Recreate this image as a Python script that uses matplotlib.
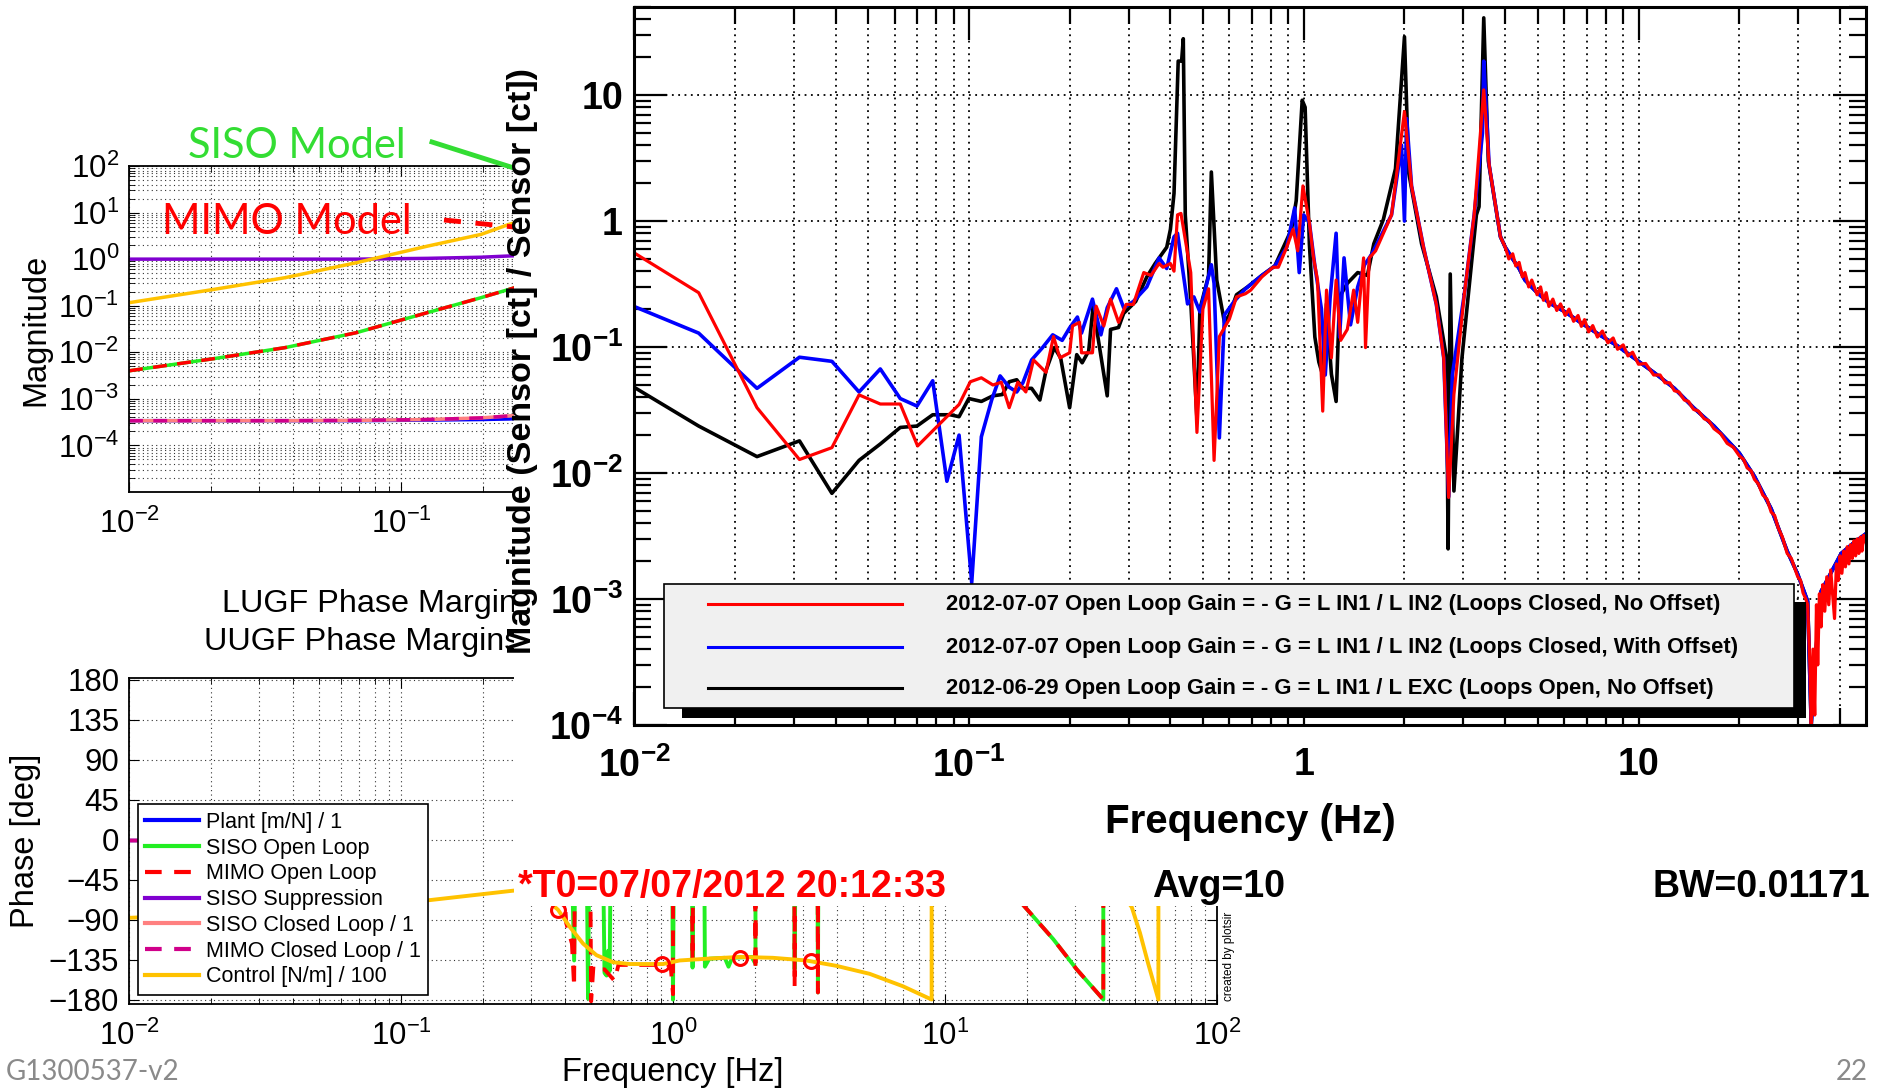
import matplotlib
matplotlib.use("Agg")
import matplotlib.pyplot as plt
import numpy as np
from matplotlib.lines import Line2D
from matplotlib.patches import Rectangle
from matplotlib.ticker import LogLocator, NullFormatter

plt.rcParams["font.family"] = ["Liberation Sans", "DejaVu Sans"]
plt.rcParams["mathtext.fontset"] = "custom"
plt.rcParams["mathtext.rm"] = "Liberation Sans"
plt.rcParams["mathtext.it"] = "Liberation Sans:italic"
plt.rcParams["mathtext.bf"] = "Liberation Sans:bold"

W, H = 1881, 1089

# ---------------- data: small model magnitude plot (upper left) ----------------
model_freq = [0.01, 0.0205, 0.0375, 0.0686, 0.125, 0.197, 0.25, 0.3]
control_mag = [0.116, 0.224, 0.40, 0.84, 1.9, 3.4, 5.6, 7.5]
open_loop_mag = [0.0040, 0.0073, 0.0126, 0.0264, 0.071, 0.149, 0.225, 0.31]
suppression_mag = [1.0, 1.0, 1.0, 1.0, 1.04, 1.1, 1.17, 1.22]
plant_mag = [3.4e-4, 3.4e-4, 3.4e-4, 3.4e-4, 3.5e-4, 3.6e-4, 3.7e-4, 3.9e-4]
closed_loop_mag = [3.4e-4, 3.4e-4, 3.4e-4, 3.45e-4, 3.6e-4, 3.9e-4, 4.3e-4, 4.7e-4]

# ---------------- data: model phase plot (bottom) ----------------
flat_phase_freq = [0.01, 0.12]
flat_phase = [0, 0]
control_phase = [(0.01, -88), (0.02, -84), (0.05, -76), (0.128, -68), (0.257, -57.5),
                 (0.29, -56), (0.33, -63), (0.378, -79), (0.417, -98), (0.467, -117),
                 (0.523, -130), (0.602, -138), (0.693, -140), (0.919, -140), (1.058, -136),
                 (1.33, -134), (1.76, -132), (2.33, -133), (3.09, -136), (3.98, -142),
                 (5.28, -151), (7.0, -165), (8.93, -180), (8.93, 180), (20, 50), (40, -40),
                 (48.6, -76), (52.1, -105), (55.9, -140), (60.9, -180), (60.9, 180),
                 (80, 120), (100, 90)]
siso_ol_phase = [(0.30, 40), (0.42, 40), (0.433, -136), (0.44, 40), (0.48, 40), (0.487, -179),
                 (0.494, 40), (0.55, 40), (0.56, -150), (0.57, -153), (0.578, -125),
                 (0.585, -148), (0.592, 40), (0.99, 40), (1.0, -180), (1.01, 40), (1.17, 40),
                 (1.18, -144), (1.19, 40), (1.30, 40), (1.31, -143), (1.36, -134),
                 (1.55, -133), (1.6, -143), (1.65, -133), (1.95, -132), (2.01, -140),
                 (2.01, 40), (2.78, 40), (2.80, -146), (2.83, 40), (3.39, 40), (3.41, -172),
                 (3.43, 40), (12, 40), (16, -44), (19.7, -76), (25, -112), (30.5, -146),
                 (38.2, -180), (38.2, 180), (60, 110), (100, 60)]
mimo_ol_phase = [(0.30, 40), (0.38, 40), (0.405, -94), (0.425, -117), (0.433, -166),
                 (0.437, 40), (0.495, 40), (0.50, -182), (0.51, -142), (0.525, -146),
                 (0.56, -146), (0.61, -159), (0.63, -141), (0.98, -141), (1.0, -174),
                 (1.0, 40), (1.17, 40), (1.18, -136), (1.19, 40), (2.0, 40), (2.01, -147),
                 (2.02, 40), (2.79, 40), (2.80, -166), (2.81, 40), (3.40, 40), (3.41, -172),
                 (3.42, 40), (12, 40), (16, -44), (19.7, -76), (25, -112), (30.5, -146),
                 (38.2, -180), (38.2, 180), (60, 110), (100, 60)]
ugf_freq = [0.378, 0.914, 1.76, 3.21]
ugf_phase = [-79, -140.5, -133, -137]

# ---------------- data: measured open loop gain (big plot) ----------------
# smooth high frequency roll-off shared by the closed/open loop measurements
tail = [(3.87, 0.75), (4.0, 0.62), (4.21, 0.50), (4.4, 0.42), (4.58, 0.34), (4.98, 0.27),
        (5.4, 0.225), (6.04, 0.19), (6.75, 0.155), (7.54, 0.128), (8.66, 0.102),
        (10.0, 0.077), (11.1, 0.063), (12.8, 0.047), (14.6, 0.033), (16.8, 0.0236),
        (20.0, 0.0144), (22.2, 0.0094), (24.9, 0.0052), (27.8, 0.0024), (29.9, 0.00157),
        (32.0, 0.00096), (32.8, 0.0001), (33.6, 0.0003), (35.1, 0.00115), (37.5, 0.0016),
        (40.3, 0.0023), (44.0, 0.0028), (47.8, 0.0033)]
# the same roll-off as it looks in the noisy 2012-07-07 trace
red_tail = [(3.87, 0.75), (4.0, 0.62), (4.1, 0.50), (4.21, 0.55), (4.3, 0.44), (4.4, 0.47),
            (4.5, 0.36), (4.58, 0.39), (4.7, 0.30), (4.8, 0.34), (4.98, 0.26), (5.1, 0.30),
            (5.2, 0.235), (5.3, 0.27), (5.4, 0.21), (5.55, 0.24), (5.7, 0.195), (5.85, 0.22),
            (6.04, 0.178), (6.2, 0.20), (6.4, 0.16), (6.6, 0.178), (6.75, 0.146), (6.9, 0.165),
            (7.1, 0.132), (7.3, 0.148), (7.54, 0.12), (7.8, 0.134), (8.1, 0.108), (8.4, 0.118),
            (8.66, 0.096), (9.0, 0.104), (9.3, 0.085), (9.6, 0.091), (10.0, 0.073),
            (10.5, 0.074), (11.1, 0.060), (11.6, 0.060), (12.0, 0.052), (12.4, 0.052),
            (12.8, 0.045), (13.2, 0.044), (13.7, 0.038), (14.1, 0.037), (14.6, 0.032),
            (15.1, 0.031), (15.7, 0.027), (16.2, 0.026), (16.8, 0.0225), (17.6, 0.0205),
            (18.4, 0.0172), (19.2, 0.0160), (20.0, 0.0137), (20.6, 0.0128), (21.1, 0.0110),
            (21.7, 0.0104), (22.2, 0.0089), (22.8, 0.0082), (23.5, 0.0067), (24.2, 0.0062),
            (24.9, 0.0049), (25.5, 0.0046), (26.1, 0.0037), (26.9, 0.0031), (27.8, 0.0023),
            (28.6, 0.0021), (29.9, 0.00150), (30.5, 0.0014), (31.0, 0.00112), (31.6, 0.0010),
            (32.0, 0.00090), (32.5, 0.0003), (32.8, 0.0001), (33.2, 0.0004), (33.6, 0.00012),
            (34.0, 0.0009), (34.3, 0.0003), (34.7, 0.0011), (35.1, 0.0006), (35.5, 0.0013),
            (36.0, 0.0008), (36.5, 0.0015), (37.0, 0.0009), (37.5, 0.0017), (38.0, 0.0011),
            (38.5, 0.0007), (39.0, 0.0019), (39.5, 0.0014), (40.0, 0.0022), (40.5, 0.0016),
            (41.0, 0.0024), (41.5, 0.0018), (42.0, 0.0026), (42.5, 0.0019), (43.0, 0.0027),
            (43.5, 0.0021), (44.0, 0.0029), (44.5, 0.0022), (45.0, 0.0030), (45.5, 0.0023),
            (46.0, 0.0031), (46.5, 0.0024), (47.0, 0.0032), (47.8, 0.0028)]

red_points = [(0.01, 0.56), (0.0156, 0.27), (0.0233, 0.033), (0.0312, 0.0128), (0.039, 0.0159),
              (0.047, 0.0417), (0.0544, 0.0353), (0.0624, 0.0353), (0.0703, 0.0164),
              (0.0935, 0.035), (0.101, 0.053), (0.109, 0.057), (0.118, 0.050), (0.125, 0.0525),
              (0.132, 0.033), (0.140, 0.0525), (0.148, 0.044), (0.156, 0.079), (0.170, 0.063),
              (0.179, 0.121), (0.187, 0.082), (0.200, 0.090), (0.204, 0.147), (0.214, 0.157),
              (0.217, 0.090), (0.234, 0.090), (0.240, 0.211), (0.253, 0.147), (0.265, 0.240),
              (0.280, 0.157), (0.295, 0.218), (0.310, 0.218), (0.333, 0.39), (0.350, 0.37),
              (0.370, 0.46), (0.380, 0.43), (0.400, 0.46), (0.410, 0.40), (0.420, 1.12),
              (0.430, 1.15), (0.460, 0.39), (0.480, 0.021), (0.500, 0.20), (0.520, 0.29),
              (0.540, 0.0126), (0.560, 0.121), (0.600, 0.167), (0.630, 0.25), (0.670, 0.265),
              (0.695, 0.283), (0.750, 0.36), (0.810, 0.43), (0.840, 0.43), (0.890, 0.62),
              (0.930, 0.86), (0.960, 0.58), (0.995, 1.9), (1.04, 0.97), (1.07, 0.51),
              (1.10, 0.34), (1.14, 0.031), (1.17, 0.283), (1.21, 0.082), (1.25, 0.34),
              (1.29, 0.113), (1.35, 0.138), (1.41, 0.283), (1.45, 0.157), (1.51, 0.51),
              (1.53, 0.099), (1.57, 0.51), (1.64, 0.58), (1.83, 1.12), (2.00, 7.4), (2.10, 1.89),
              (2.28, 0.62), (2.49, 0.218), (2.62, 0.082), (2.71, 0.0064), (2.81, 0.042),
              (3.02, 0.265), (3.23, 1.12), (3.45, 11.0), (3.58, 2.8)] + red_tail

blue_points = [(0.01, 0.21), (0.0156, 0.129), (0.0233, 0.047), (0.0312, 0.083), (0.039, 0.077),
               (0.047, 0.044), (0.0544, 0.067), (0.0624, 0.039), (0.070, 0.034), (0.078, 0.054),
               (0.086, 0.0086), (0.0935, 0.020), (0.102, 0.00135), (0.109, 0.0194),
               (0.117, 0.038), (0.124, 0.059), (0.132, 0.048), (0.139, 0.044), (0.145, 0.052),
               (0.154, 0.079), (0.166, 0.099), (0.178, 0.125), (0.190, 0.113), (0.200, 0.142),
               (0.211, 0.173), (0.217, 0.129), (0.234, 0.240), (0.248, 0.125), (0.259, 0.205),
               (0.276, 0.29), (0.290, 0.205), (0.31, 0.23), (0.34, 0.30), (0.37, 0.51),
               (0.39, 0.42), (0.41, 0.75), (0.42, 0.80), (0.45, 0.22), (0.47, 0.25), (0.49, 0.19),
               (0.53, 0.45), (0.54, 0.32), (0.56, 0.019), (0.58, 0.18), (0.62, 0.23),
               (0.67, 0.29), (0.75, 0.37), (0.82, 0.44), (0.89, 0.62), (0.94, 1.27), (0.97, 0.39),
               (1.0, 1.12), (1.04, 0.97), (1.08, 0.44), (1.13, 0.20), (1.16, 0.06), (1.20, 0.25),
               (1.25, 0.80), (1.28, 0.12), (1.32, 0.51), (1.38, 0.15), (1.45, 0.30),
               (1.52, 0.45), (1.60, 0.55), (1.83, 1.12), (1.96, 4.0), (2.0, 1.0), (2.03, 6.5),
               (2.10, 1.9), (2.28, 0.62), (2.49, 0.218), (2.62, 0.082), (2.71, 0.0065),
               (2.78, 0.06), (3.02, 0.265), (3.23, 1.12), (3.42, 5.0), (3.45, 18.6),
               (3.50, 9.0), (3.58, 2.8)] + tail

black_points = [(0.01, 0.048), (0.0156, 0.0236), (0.0233, 0.0135), (0.0312, 0.018),
                (0.039, 0.0069), (0.047, 0.0126), (0.0544, 0.017), (0.0624, 0.023),
                (0.070, 0.0236), (0.078, 0.029), (0.088, 0.029), (0.0935, 0.028), (0.100, 0.039),
                (0.109, 0.037), (0.118, 0.041), (0.126, 0.042), (0.132, 0.053), (0.139, 0.055),
                (0.145, 0.047), (0.154, 0.047), (0.163, 0.038), (0.170, 0.065), (0.180, 0.099),
                (0.188, 0.082), (0.200, 0.033), (0.210, 0.087), (0.218, 0.075), (0.228, 0.093),
                (0.235, 0.21), (0.259, 0.041), (0.265, 0.138), (0.28, 0.143), (0.29, 0.185),
                (0.315, 0.23), (0.34, 0.36), (0.36, 0.46), (0.39, 0.62), (0.40, 0.86),
                (0.41, 1.66), (0.422, 18.6), (0.432, 18.6), (0.437, 28.0), (0.443, 1.12),
                (0.46, 0.23), (0.48, 0.027), (0.49, 0.20), (0.52, 0.37), (0.53, 2.45),
                (0.55, 0.34), (0.58, 0.157), (0.60, 0.18), (0.63, 0.26), (0.68, 0.30),
                (0.75, 0.37), (0.82, 0.44), (0.92, 0.86), (0.95, 1.45), (0.99, 9.1), (1.01, 8.0),
                (1.04, 0.66), (1.08, 0.12), (1.11, 0.076), (1.14, 0.06), (1.17, 0.22),
                (1.21, 0.061), (1.25, 0.037), (1.28, 0.25), (1.35, 0.32), (1.45, 0.39),
                (1.55, 0.37), (1.62, 0.66), (1.73, 1.03), (1.88, 2.6), (2.0, 29.0), (2.06, 2.4),
                (2.25, 0.66), (2.49, 0.25), (2.67, 0.082), (2.70, 0.0025), (2.74, 0.38),
                (2.81, 0.0072), (2.97, 0.082), (3.28, 1.12), (3.34, 1.3), (3.45, 41.0),
                (3.56, 3.0)] + tail

legend_labels = ["2012-07-07 Open Loop Gain = - G = L IN1 / L IN2 (Loops Closed, No Offset)",
                 "2012-07-07 Open Loop Gain = - G = L IN1 / L IN2 (Loops Closed, With Offset)",
                 "2012-06-29 Open Loop Gain = - G = L IN1 / L EXC (Loops Open, No Offset)"]

C_BLUE, C_GREEN, C_RED = "#0000ff", "#22ee22", "#ff0000"
C_PURPLE, C_PINK, C_MAGENTA, C_GOLD = "#8000d0", "#ff8080", "#d0008a", "#ffc200"


def box(x0, y0, x1, y1):
    return [x0 / W, 1 - y1 / H, (x1 - x0) / W, (y1 - y0) / H]


def fx(x):
    return x / W


def fy(y):
    return 1 - y / H


fig = plt.figure(figsize=(W / 100, H / 100), dpi=100)
fig.patch.set_facecolor("white")

grid_kw = dict(color="#333333", linestyle=(0, (1, 3)), linewidth=0.8)
LW = 2.5

# ---------------- small magnitude plot ----------------
ax_m = fig.add_axes(box(129, 166, 1217, 492), zorder=1)
ax_m.set_xscale("log")
ax_m.set_yscale("log")
ax_m.plot(model_freq, plant_mag, color=C_BLUE, lw=LW)
ax_m.plot(model_freq, open_loop_mag, color=C_GREEN, lw=LW)
ax_m.plot(model_freq, open_loop_mag, color=C_RED, lw=LW, dashes=(4, 3))
ax_m.plot(model_freq, suppression_mag, color=C_PURPLE, lw=LW)
ax_m.plot(model_freq, closed_loop_mag, color=C_PINK, lw=LW)
ax_m.plot(model_freq, closed_loop_mag, color=C_MAGENTA, lw=LW, dashes=(4, 3))
ax_m.plot(model_freq, control_mag, color=C_GOLD, lw=LW)
ax_m.set_xlim(0.01, 100)
ax_m.set_ylim(1e-5, 1e2)
ax_m.set_yticks([1e-4, 1e-3, 1e-2, 1e-1, 1, 10, 100])
ax_m.set_yticklabels([r"$10^{-4}$", r"$10^{-3}$", r"$10^{-2}$", r"$10^{-1}$",
                      r"$10^{0}$", r"$10^{1}$", r"$10^{2}$"])
ax_m.set_xticks([0.01, 0.1, 1, 10, 100])
ax_m.set_xticklabels([r"$10^{-2}$", r"$10^{-1}$", r"$10^{0}$", r"$10^{1}$", r"$10^{2}$"])
ax_m.yaxis.set_minor_locator(LogLocator(base=10, subs=np.arange(2, 10), numticks=20))
ax_m.yaxis.set_minor_formatter(NullFormatter())
ax_m.xaxis.set_minor_formatter(NullFormatter())
ax_m.grid(which="both", **grid_kw)
ax_m.tick_params(which="both", direction="in", top=True, right=True, labelsize=22.5)
ax_m.tick_params(which="major", length=7, pad=7)
ax_m.tick_params(axis="x", which="major", pad=12)
ax_m.tick_params(which="minor", length=4)
for s in ax_m.spines.values():
    s.set_linewidth(1.3)

# ---------------- phase plot ----------------
ax_p = fig.add_axes(box(129, 678, 1217, 1004), zorder=1)
ax_p.set_xscale("log")
lines = []
lines += ax_p.plot(flat_phase_freq, flat_phase, color=C_BLUE, lw=LW, label="Plant [m/N] / 1")
f, p = zip(*siso_ol_phase)
lines += ax_p.plot(f, p, color=C_GREEN, lw=2.8, label="SISO Open Loop")
f, p = zip(*mimo_ol_phase)
lines += ax_p.plot(f, p, color=C_RED, lw=2.8, dashes=(4, 3), label="MIMO Open Loop")
lines += ax_p.plot(flat_phase_freq, flat_phase, color=C_PURPLE, lw=LW, label="SISO Suppression")
lines += ax_p.plot(flat_phase_freq, flat_phase, color=C_PINK, lw=LW, label="SISO Closed Loop / 1")
lines += ax_p.plot(flat_phase_freq, flat_phase, color=C_MAGENTA, lw=LW, dashes=(4, 3),
                   label="MIMO Closed Loop / 1")
f, p = zip(*control_phase)
lines += ax_p.plot(f, p, color=C_GOLD, lw=2.8, label="Control [N/m] / 100")
ax_p.plot(ugf_freq, ugf_phase, "o", mfc="none", mec=C_RED, mew=2.2, ms=10)
ax_p.set_xlim(0.01, 100)
ax_p.set_ylim(-185, 182)
ax_p.set_yticks([180, 135, 90, 45, 0, -45, -90, -135, -180])
ax_p.set_yticklabels(["180", "135", "90", "45", "0", "\u221245", "\u221290", "\u2212135", "\u2212180"])
ax_p.set_xticks([0.01, 0.1, 1, 10, 100])
ax_p.set_xticklabels([r"$10^{-2}$", r"$10^{-1}$", r"$10^{0}$", r"$10^{1}$", r"$10^{2}$"])
ax_p.xaxis.set_minor_formatter(NullFormatter())
ax_p.grid(which="both", axis="x", **grid_kw)
ax_p.grid(which="major", axis="y", **grid_kw)
ax_p.tick_params(which="both", direction="in", top=True, right=True, labelsize=22.5)
ax_p.tick_params(which="major", length=7, pad=7)
ax_p.tick_params(axis="x", which="major", pad=12)
ax_p.tick_params(which="minor", length=4)
for s in ax_p.spines.values():
    s.set_linewidth(1.3)
leg = ax_p.legend(handles=lines, loc="lower left", bbox_to_anchor=(0.008, 0.028),
                  borderaxespad=0, fontsize=15.5, frameon=True, fancybox=False,
                  framealpha=1, edgecolor="black", handlelength=2.5, handletextpad=0.3,
                  labelspacing=0.22, borderpad=0.35)
leg.get_frame().set_linewidth(1.2)
for ln in leg.get_lines():
    ln.set_linewidth(3)

# labels of the small plots
fig.text(fx(36), fy(330), "Magnitude", rotation=90, fontsize=23.5, ha="center", va="center", zorder=1.5)
fig.text(fx(26), fy(841), "Phase [deg]", rotation=90, fontsize=23.5, ha="center", va="center", zorder=1.5)
fig.text(fx(673), fy(1072), "Frequency [Hz]", fontsize=23.5, ha="center", va="center", zorder=1.5)
fig.text(fx(222), fy(604), "LUGF Phase Margins", fontsize=23.3, ha="left", va="center", zorder=1.5)
fig.text(fx(204), fy(642), "UUGF Phase Margins", fontsize=23.3, ha="left", va="center", zorder=1.5)
fig.text(fx(188), fy(146), "SISO Model", fontsize=30, color="#33dd33", family="Lato",
         ha="left", va="center", zorder=1.5)
fig.text(fx(162), fy(222), "MIMO Model", fontsize=30, color=C_RED, family="Lato",
         ha="left", va="center", zorder=1.5)
fig.add_artist(Line2D([fx(432), fx(514)], [fy(142), fy(168)], color="#33dd33", lw=3.5, zorder=1.5))
fig.add_artist(Line2D([fx(444), fx(514)], [fy(220), fy(227)], color=C_RED, lw=3.5,
                      dashes=(3.5, 3), zorder=1.5))

# white area of the pasted measurement plot
fig.add_artist(Rectangle((fx(514), fy(906)), 1 - fx(514), fy(0) - fy(906),
                         transform=fig.transFigure, facecolor="white", edgecolor="none", zorder=2))

# ---------------- big measurement plot ----------------
ax = fig.add_axes(box(634, 7, 1866, 725), zorder=3)
ax.set_xscale("log")
ax.set_yscale("log")
for pts, col, lw in [(black_points, "black", 2.6), (blue_points, C_BLUE, 2.6),
                     (red_points, C_RED, 2.3)]:
    f, m = zip(*pts)
    ax.plot(f, m, color=col, lw=lw)
ax.set_xlim(0.01, 47.8)
ax.set_ylim(1e-4, 50)
ax.set_xticks([0.01, 0.1, 1, 10])
ax.set_xticklabels([r"$\mathbf{10^{-2}}$", r"$\mathbf{10^{-1}}$", "1", "10"],
                   fontsize=27, fontweight="bold")
ax.set_yticks([1e-4, 1e-3, 1e-2, 1e-1, 1, 10])
ax.set_yticklabels([r"$\mathbf{10^{-4}}$", r"$\mathbf{10^{-3}}$", r"$\mathbf{10^{-2}}$",
                    r"$\mathbf{10^{-1}}$", "1", "10"], fontsize=27, fontweight="bold")
ax.xaxis.set_minor_locator(LogLocator(base=10, subs=np.arange(2, 10), numticks=20))
ax.yaxis.set_minor_locator(LogLocator(base=10, subs=np.arange(2, 10), numticks=20))
ax.xaxis.set_minor_formatter(NullFormatter())
ax.yaxis.set_minor_formatter(NullFormatter())
big_grid = dict(color="black", linestyle=(0, (1, 2.5)), linewidth=1.3)
ax.grid(which="both", axis="x", **big_grid)
ax.grid(which="major", axis="y", **big_grid)
ax.tick_params(which="both", direction="in", top=True, right=True, width=1.6)
ax.tick_params(which="major", length=24)
ax.tick_params(which="minor", length=12)
ax.tick_params(axis="x", which="major", pad=16)
ax.tick_params(axis="y", which="major", pad=8)
for s in ax.spines.values():
    s.set_linewidth(2.2)

# legend with ROOT style shadow
ax.add_patch(Rectangle((0.039, 0.0098), 0.9123, 0.1615, transform=ax.transAxes,
                       facecolor="black", edgecolor="none", zorder=5))
ax.add_patch(Rectangle((0.0244, 0.0237), 0.9172, 0.1727, transform=ax.transAxes,
                       facecolor="#f0f0f0", edgecolor="black", lw=1.2, zorder=6))
for lab, col, yy in zip(legend_labels, [C_RED, C_BLUE, "black"], [0.1685, 0.1086, 0.0515]):
    ax.add_line(Line2D([0.0601, 0.2175], [yy, yy], transform=ax.transAxes, color=col,
                       lw=2.2, zorder=7))
    ax.text(0.2532, yy, lab, transform=ax.transAxes, fontsize=15.8, fontweight="bold",
            ha="left", va="center", zorder=7)

fig.text(fx(522), fy(361), "Magnitude (Sensor [ct] / Sensor [ct])", rotation=90, fontsize=24.5,
         fontweight="bold", ha="center", va="center", zorder=4)
fig.text(fx(1250), fy(822), "Frequency (Hz)", fontsize=29, fontweight="bold",
         ha="center", va="center", zorder=4)
fig.text(fx(518), fy(887), "*T0=07/07/2012 20:12:33", fontsize=27, fontweight="bold",
         color=C_RED, ha="left", va="center", zorder=4)
fig.text(fx(1152), fy(887), "Avg=10", fontsize=27, fontweight="bold", ha="left", va="center", zorder=4)
fig.text(fx(1870), fy(887), "BW=0.01171", fontsize=27, fontweight="bold", ha="right",
         va="center", zorder=4)
fig.text(fx(1229), fy(956), "created by plotsir", rotation=90, fontsize=8.5,
         ha="center", va="center", zorder=4)

# slide footer
fig.text(fx(6), fy(1072), "G1300537-v2", fontsize=20, color="#8a8a8a", family="Lato",
         ha="left", va="center", zorder=4)
fig.text(fx(1868), fy(1072), "22", fontsize=20, color="#8a8a8a", family="Lato",
         ha="right", va="center", zorder=4)

fig.savefig("out.png", dpi=100)
